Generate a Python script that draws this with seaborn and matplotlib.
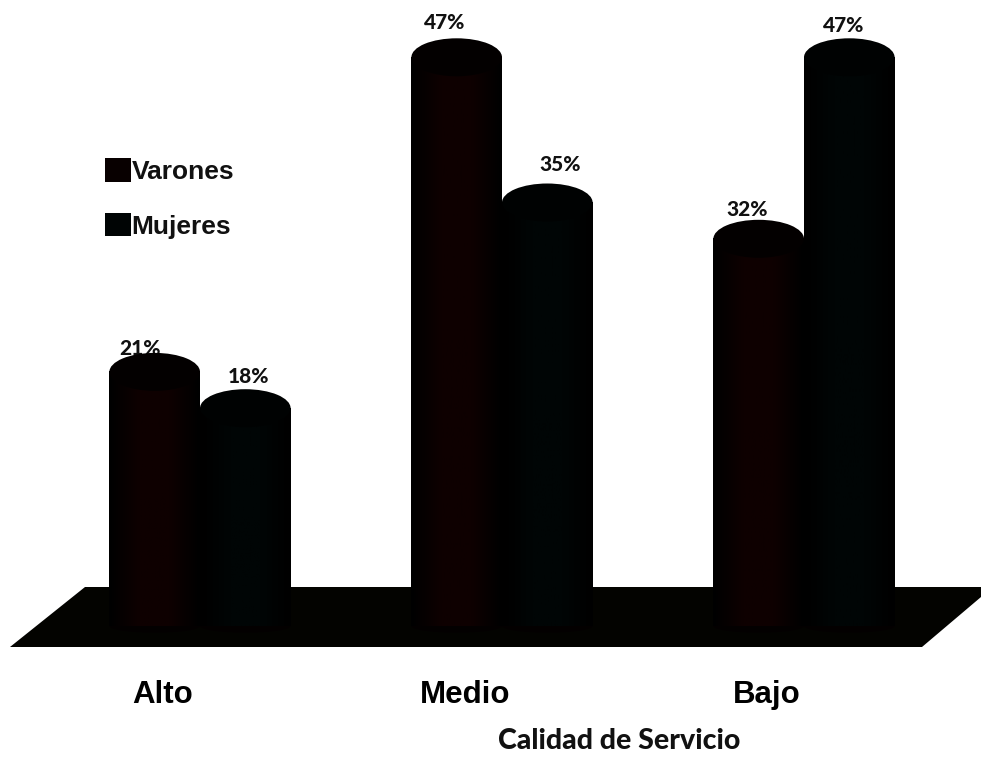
import matplotlib
matplotlib.use("Agg")
import matplotlib.pyplot as plt
from matplotlib.colors import LinearSegmentedColormap
import numpy as np
import pandas as pd
import seaborn as sns
from matplotlib.patches import Ellipse, Polygon

categories = ["Alto", "Medio", "Bajo"]
varones = [21, 47, 32]
mujeres = [18, 35, 47]
series_names = ["Varones", "Mujeres"]
x_title = "Calidad de Servicio"

# Hand placement of the value labels, in pixels, relative to the cylinder
label_dx = [-15, -12, -12, 3, 13, -6]
label_dy = [-8, 3, -2, 0, 6, 0]

W, H = 981, 757
sns.set_theme(style="white")
plt.rcParams["font.family"] = ["Liberation Sans", "DejaVu Sans"]

df = pd.DataFrame({
    "cat": categories * 2,
    "serie": [series_names[0]] * 3 + [series_names[1]] * 3,
    "val": varones + mujeres,
})

fig = plt.figure(figsize=(W / 100, H / 100), dpi=100, facecolor="white")
ax = fig.add_axes([0, 0, 1, 1])
colors = {"Varones": "#080000", "Mujeres": "#000404"}
xlim = (-200 / 302, (W - 200) / 302)
ppv = 12.1
ylim = ((626 - H) / ppv, 626 / ppv)

# Floor (decorative 3D plane), given in pixels from the top-left corner
floor_px = [(10, 647), (85, 587), (981, 587), (981, 597), (922, 647)]
floor_fig = [(x / W, 1 - y / H) for x, y in floor_px]
ax.add_patch(Polygon(floor_fig, closed=True, transform=fig.transFigure, fc="#030300", ec="none", zorder=0))

sns.barplot(data=df, x="cat", y="val", hue="serie", palette=colors, order=categories,
            hue_order=series_names, width=0.6, gap=0, dodge=True, saturation=1,
            edgecolor="none", ax=ax, zorder=2, legend=True)

# Cylinder shading, caps and bases, derived from the bars
ell_h = 38 / ppv
shades = {
    "Varones": LinearSegmentedColormap.from_list("v", ["#000000", "#0e0000", "#0e0000", "#000000"]),
    "Mujeres": LinearSegmentedColormap.from_list("m", ["#000000", "#000505", "#000505", "#000000"]),
}
bars = [p for p in ax.patches if isinstance(p, matplotlib.patches.Rectangle) and p.get_height() > 0]
for i, b in enumerate(bars):
    name = series_names[0] if i < 3 else series_names[1]
    x0, w, top = b.get_x(), b.get_width(), b.get_height()
    cx = x0 + w / 2
    z = 3 if name == "Varones" else 2
    b.set_zorder(z)
    ax.imshow(np.linspace(0, 1, 64)[None, :], cmap=shades[name], aspect="auto",
              extent=(x0, x0 + w, 0, top), zorder=z + 0.1)
    ax.add_patch(Ellipse((cx, top), w, ell_h, fc="#030000" if z == 3 else "#000202", ec="none", zorder=z + 0.2))
    ax.add_patch(Ellipse((cx, 0), w, ell_h * 0.35, fc="#030000", ec="none", zorder=z))
    ax.text(cx + label_dx[i] / 302, top + ell_h / 2 + 0.25 + label_dy[i] / ppv, f"{top:.0f}%",
            ha="center", va="bottom", fontsize=15, fontweight="black", family="Lato",
            color="#111111", zorder=1)

ax.set_xlim(*xlim)
ax.set_ylim(*ylim)

# Axis furniture
ax.set_xticks(np.arange(3) - 37 / 302, categories)
ax.tick_params(axis="x", length=0, pad=0, labelsize=22.5, labelcolor="black")
for t in ax.get_xticklabels():
    t.set_fontweight("bold")
    t.set_transform(matplotlib.transforms.blended_transform_factory(ax.transData, fig.transFigure))
    t.set_position((t.get_position()[0], 1 - 695 / H))
    t.set_va("center")
ax.set_yticks([])
ax.set_ylabel("")
ax.set_xlabel("")
for s in ax.spines.values():
    s.set_visible(False)
ax.text(619 / W, 1 - 741 / H, x_title, transform=fig.transFigure, ha="center", va="center",
        fontsize=20.5, fontweight="black", family="Lato", color="#111111")

# Legend
h, l = ax.get_legend_handles_labels()
leg = ax.legend(h, l, loc="upper left", bbox_to_anchor=(105 / W, 1 - 158 / H), bbox_transform=fig.transFigure,
                frameon=False, fontsize=19, handlelength=1.0, handleheight=1.0, handletextpad=0.0,
                labelspacing=1.1, borderpad=0, borderaxespad=0)
for t in leg.get_texts():
    t.set_fontweight("bold")
    t.set_color("#111111")

fig.savefig("out.png", dpi=100, facecolor="white")
